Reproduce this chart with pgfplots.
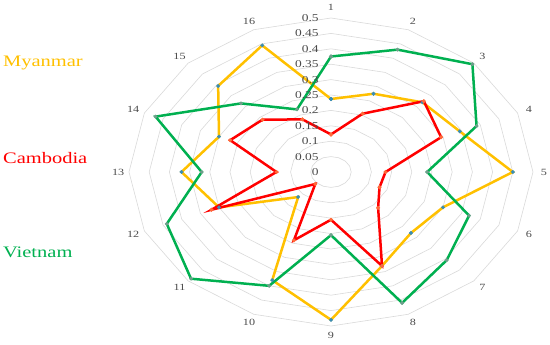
\documentclass[border=0pt]{standalone}
\usepackage{fontspec}
\setmainfont{Liberation Serif}[FakeStretch=1.28]
\usepackage{pgfplots}
\pgfplotsset{compat=1.18}
\definecolor{myan}{HTML}{FFC000}
\definecolor{camb}{HTML}{FF0000}
\definecolor{viet}{HTML}{00B050}
\definecolor{ringc}{HTML}{D9D9D9}
\definecolor{labc}{HTML}{4A4A4A}
\definecolor{mkblue}{HTML}{3A8DB5}
\definecolor{mkgreen}{HTML}{6F9F8C}
\definecolor{mkred}{HTML}{FF6A3A}
\begin{document}
\begin{tikzpicture}
\path[use as bounding box] (-331pt,-173pt) rectangle (219pt,172pt);
\begin{axis}[at={(0,0)}, anchor=center, scale only axis, width=404pt, height=308pt,
  xmin=-0.5, xmax=0.5, ymin=-0.5, ymax=0.5, hide axis, clip=false]
\pgfplotsinvokeforeach{0.05,0.1,0.15,0.2,0.25,0.3,0.35,0.4,0.45,0.5}{
\addplot[draw=ringc, line width=0.6pt, data cs=polar] coordinates {(90,#1) (67.5,#1) (45,#1) (22.5,#1) (0,#1) (-22.5,#1) (-45,#1) (-67.5,#1) (-90,#1) (-112.5,#1) (-135,#1) (-157.5,#1) (-180,#1) (-202.5,#1) (-225,#1) (-247.5,#1) (-270,#1)};
}
% Myanmar
\addplot[draw=myan, line width=2.5pt, data cs=polar, mark=*, mark size=1.8pt, mark options={fill=mkblue, draw=mkblue, line width=0.3pt}] coordinates {
(90,0.237) (67.5,0.275) (45,0.32) (22.5,0.345) (0,0.45) (-22.5,0.30) (-45,0.28) (-67.5,0.33)
(-90,0.48) (-112.5,0.38) (-135,0.115) (-157.5,0.30) (-180,0.37) (-202.5,0.30) (-225,0.395) (-247.5,0.445) (-270,0.237)};
% Cambodia
\addplot[draw=camb, line width=2.5pt, data cs=polar, mark=*, mark size=1.9pt, mark options={fill=mkred, draw=mkred, line width=0.3pt}] coordinates {
(90,0.122) (67.5,0.205) (45,0.325) (22.5,0.295) (0,0.135) (-22.5,0.13) (-45,0.165) (-67.5,0.33)
(-90,0.155) (-112.5,0.24) (-135,0.055) (-157.5,0.32) (-180,0.135) (-202.5,0.27) (-225,0.24) (-247.5,0.185) (-270,0.122)};
% Vietnam
\addplot[draw=viet, line width=2.5pt, data cs=polar, mark=*, mark size=1.8pt, mark options={fill=mkgreen, draw=mkgreen, line width=0.3pt}] coordinates {
(90,0.375) (67.5,0.43) (45,0.495) (22.5,0.39) (0,0.238) (-22.5,0.37) (-45,0.405) (-67.5,0.46)
(-90,0.205) (-112.5,0.40) (-135,0.49) (-157.5,0.44) (-180,0.32) (-202.5,0.47) (-225,0.315) (-247.5,0.22) (-270,0.375)};
% radial tick labels
\pgfplotsinvokeforeach{0,0.05,0.1,0.15,0.2,0.25,0.3,0.35,0.4,0.45,0.5}{
  \node[anchor=east, text=labc, font=\fontsize{10.5}{11}\selectfont, inner sep=0pt] at (axis cs:-0.03,#1) {#1};
}
% spoke labels
\begin{scope}[every node/.style={text=labc, font=\fontsize{9.5}{10}\selectfont, inner sep=0pt}]
\node at (axis cs:0,0.535) {1};
\node at (axis cs:0.2028,0.4897) {2};
\node at (axis cs:0.3748,0.3748) {3};
\node at (axis cs:0.4897,0.2028) {4};
\node at (axis cs:0.527,0) {5};
\node at (axis cs:0.4897,-0.2028) {6};
\node at (axis cs:0.3748,-0.3748) {7};
\node at (axis cs:0.2028,-0.4897) {8};
\node at (axis cs:0,-0.532) {9};
\node at (axis cs:-0.2028,-0.4897) {10};
\node at (axis cs:-0.3748,-0.3748) {11};
\node at (axis cs:-0.4897,-0.2028) {12};
\node at (axis cs:-0.527,0) {13};
\node at (axis cs:-0.4897,0.2028) {14};
\node at (axis cs:-0.3748,0.3748) {15};
\node at (axis cs:-0.2028,0.4897) {16};
\end{scope}
% legend labels
\node[anchor=west, text=myan, font=\fontsize{16}{18}\selectfont, inner sep=0pt] at (axis cs:-0.812,0.354) {Myanmar};
\node[anchor=west, text=camb, font=\fontsize{16}{18}\selectfont, inner sep=0pt] at (axis cs:-0.812,0.045) {Cambodia};
\node[anchor=west, text=viet, font=\fontsize{16}{18}\selectfont, inner sep=0pt] at (axis cs:-0.812,-0.26) {Vietnam};
\end{axis}
\end{tikzpicture}
\end{document}
